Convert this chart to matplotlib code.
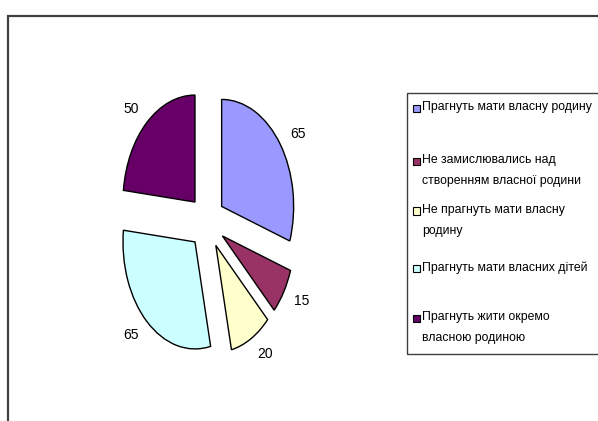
import matplotlib
matplotlib.use("Agg")
import matplotlib.pyplot as plt
from matplotlib.patches import Rectangle

plt.rcParams['font.family'] = ['Liberation Sans', 'DejaVu Sans']

# data
categories = [
    "Прагнуть мати власну родину",
    "Не замислювались над\nстворенням власної родини",
    "Не прагнуть мати власну\nродину",
    "Прагнуть мати власних дітей",
    "Прагнуть жити окремо\nвласною родиною",
]
values = [65, 15, 20, 65, 50]
colors = ['#9999FF', '#993366', '#FFFFCC', '#CCFFFF', '#660066']

W, H = 598, 421
fig = plt.figure(figsize=(W / 100, H / 100), dpi=100)

# outer chart frame (runs off the right and bottom edges)
fig.add_artist(Rectangle((8 / W, -0.1), 1.2, 1.1 - 16 / H, transform=fig.transFigure,
                         fill=False, edgecolor='#404040', lw=1.6))

# pie axes: 1 unit = 72 px horizontally, 107 px vertically
cx, cy = 207, 222
ax = fig.add_axes([(cx - 108) / W, (H - cy - 160.5) / H, 216 / W, 321 / H])
ax.axis('off')

ax.pie(values, labels=[str(v) for v in values], colors=colors,
       startangle=90, counterclock=False, explode=[0.25] * len(values),
       labeldistance=1.17,
       wedgeprops=dict(edgecolor='black', linewidth=1.0),
       textprops=dict(fontsize=10, color='black'))
ax.set_xlim(-1.5, 1.5)
ax.set_ylim(-1.5, 1.5)
ax.set_aspect('auto')

# legend box
lx, ly_top, ly_bot = 407, 93, 354
fig.add_artist(Rectangle((lx / W, 1 - ly_bot / H), 0.5, (ly_bot - ly_top) / H,
                         transform=fig.transFigure, fill=False,
                         edgecolor='#404040', lw=1.0))

first_line_y = [108, 161, 211, 268, 318]
for lab, col, y in zip(categories, colors, first_line_y):
    fig.add_artist(Rectangle((413 / W, 1 - (y + 3.5) / H), 6.5 / W, 7 / H,
                             transform=fig.transFigure, facecolor=col,
                             edgecolor='black', lw=0.8))
    fig.text(422 / W, 1 - (y - 7) / H, lab, fontsize=8.8, va='top', ha='left',
             linespacing=1.95)

fig.savefig('out.png', dpi=100)
